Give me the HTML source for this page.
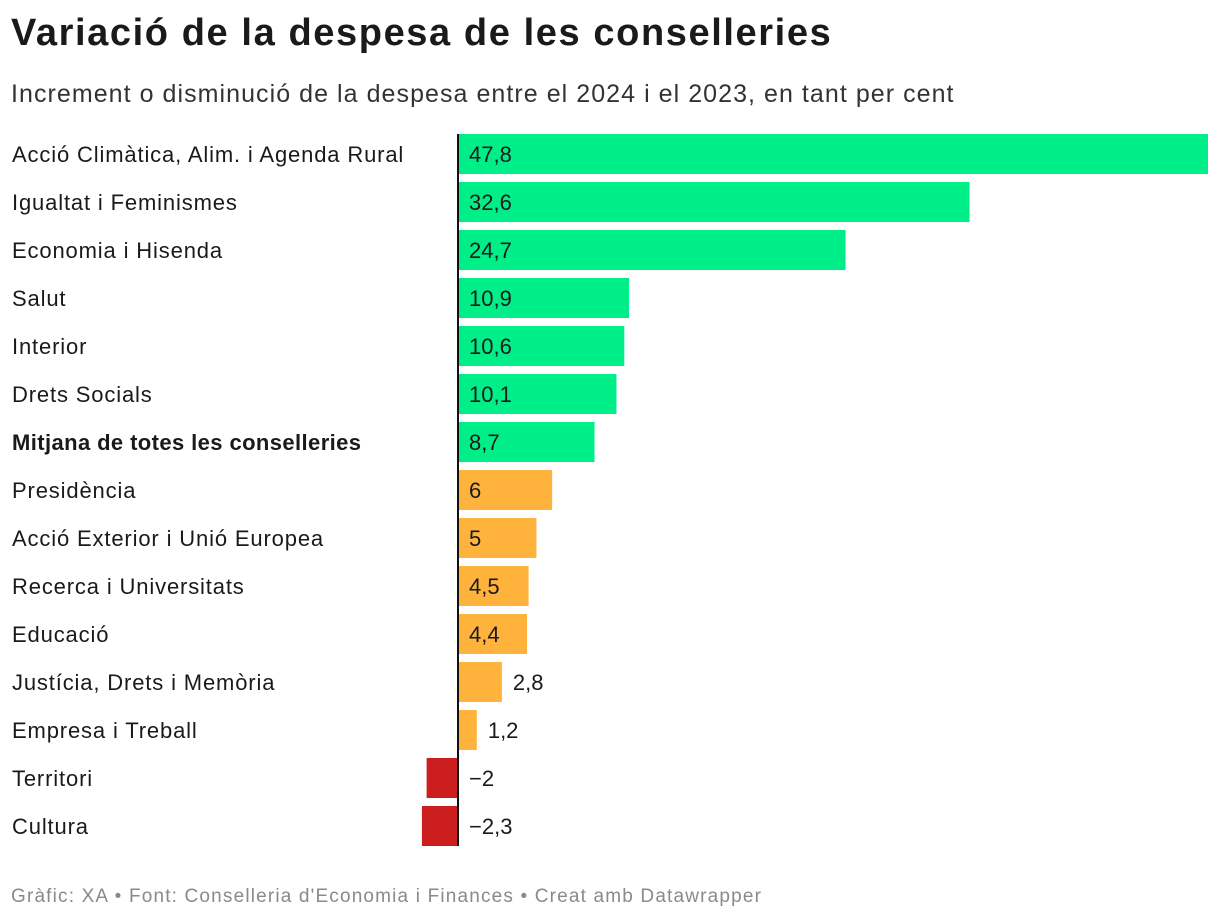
<!DOCTYPE html>
<html><head><meta charset="utf-8"><style>
body{margin:0;background:#fff;width:1220px;height:922px;overflow:hidden;font-family:"Liberation Sans",sans-serif;color:#1a1a1a}
#title{position:absolute;left:11px;top:12px;font-size:38px;font-weight:bold;margin:0;letter-spacing:1.6px}
#sub{position:absolute;left:11px;top:80px;font-size:25px;color:#333;letter-spacing:1.05px}
#foot{position:absolute;left:11px;top:886px;font-size:19px;color:#8a8a8a;letter-spacing:1.17px}
svg{position:absolute;left:0;top:0}
</style></head><body>
<h1 id="title">Variació de la despesa de les conselleries</h1>
<div id="sub">Increment o disminució de la despesa entre el 2024 i el 2023, en tant per cent</div>
<div id="foot">Gràfic: XA • Font: Conselleria d'Economia i Finances • Creat amb Datawrapper</div>
<svg id="chart" width="1220" height="922"></svg>
<script>
const categories=["Acció Climàtica, Alim. i Agenda Rural","Igualtat i Feminismes","Economia i Hisenda","Salut","Interior","Drets Socials","Mitjana de totes les conselleries","Presidència","Acció Exterior i Unió Europea","Recerca i Universitats","Educació","Justícia, Drets i Memòria","Empresa i Treball","Territori","Cultura"];
const values=[47.8,32.6,24.7,10.9,10.6,10.1,8.7,6,5,4.5,4.4,2.8,1.2,-2,-2.3];
const valueLabels=["47,8","32,6","24,7","10,9","10,6","10,1","8,7","6","5","4,5","4,4","2,8","1,2","−2","−2,3"];
const colors=["#00ee88","#00ee88","#00ee88","#00ee88","#00ee88","#00ee88","#00ee88","#ffb33d","#ffb33d","#ffb33d","#ffb33d","#ffb33d","#ffb33d","#cc1e1e","#cc1e1e"];
const svg=document.getElementById('chart');const NS="http://www.w3.org/2000/svg";
const x0=458,k=750/47.8,top0=134,step=48,bh=40;
const x=v=>x0+v*k, y=i=>top0+i*step;
function mk(t,a){const e=document.createElementNS(NS,t);for(const n in a)e.setAttribute(n,a[n]);svg.appendChild(e);return e;}
categories.forEach((c,i)=>{
 const v=values[i];
 const r=mk('rect',{x:Math.min(x(0),x(v)),y:y(i),width:Math.abs(x(v)-x(0)),height:bh,fill:colors[i]});
 
 
 const l=mk('text',{x:12,y:y(i)+28,'font-size':22,fill:'#1a1a1a','letter-spacing':i==6?0.4:0.85,'font-weight':i==6?'bold':'normal'});
 l.textContent=c;
 
 
 const inside=v>=4;
 const tx=v<0?x0+11:(inside?x0+11:x(v)+11);
 const t=mk('text',{x:tx,y:y(i)+28,'font-size':22,fill:'#1a1a1a'});
 t.textContent=valueLabels[i];
 
 
});
const ax=mk('line',{x1:x0,x2:x0,y1:top0,y2:y(categories.length-1)+bh,stroke:'#111','stroke-width':2});


</script>
</body></html>
